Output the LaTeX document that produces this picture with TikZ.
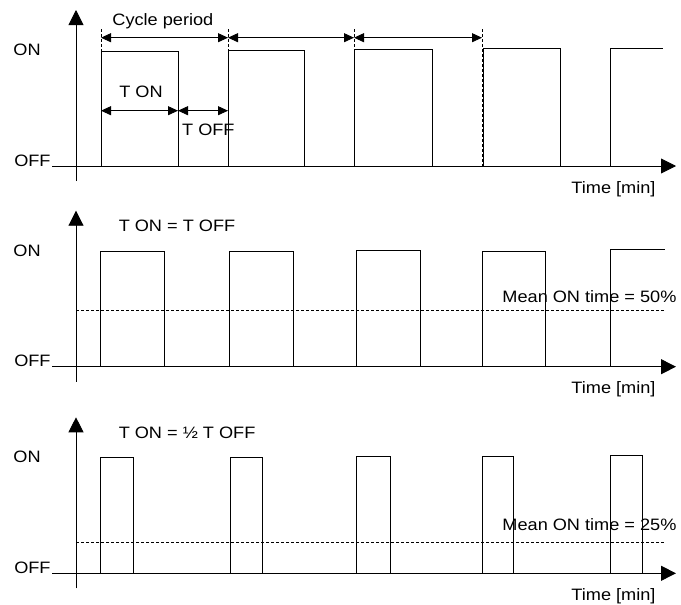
\documentclass[tikz,border=0pt]{standalone}
\usepackage{fontspec}
\setmainfont[FakeStretch=1.1]{Liberation Sans}
\usetikzlibrary{arrows.meta}
\usetikzlibrary{positioning}

\begin{document}
\begin{tikzpicture}[x=1pt, y=-1pt, line width=0.9pt,
  every node/.style={inner sep=0pt, font=\fontsize{16.5}{18}\selectfont},
  axis/.style={-{Triangle[length=15pt,width=15pt]}},
  dim/.style={line width=0.9pt, {Triangle[length=10pt,width=9pt]}-{Triangle[length=10pt,width=9pt]}},
  guide/.style={line width=0.7pt, dash pattern=on 3pt off 2pt}]

          \useasboundingbox (0,0) rectangle (681,605);

          \foreach \ya/\n in {166/1, 366.7/2, 573.3/3}{
            \node[anchor=base east] (off\n) at (51,\ya) {OFF};
            \node[anchor=west] (on\n) at (13,\ya-116) {ON};
            \node (time\n) at (613.5,\ya+23) {Time [min]};
            \draw[axis] (52,\ya) -- (676,\ya);
            \draw[axis] (76,\ya+15) -- (76,\ya-156);
          }

          \foreach \a/\b/\t in {101/178/51, 228/304/50, 354/432/49, 483/560/48.5}
            \draw (\a,166) |- (\b,\t) -- (\b,166);
          \draw (610,166) |- (663,48);

          \foreach \a/\b/\t in {100.7/164/251, 229.7/293.3/251, 356.7/420/250, 482.7/545.7/251}
            \draw (\a,366.7) |- (\b,\t) -- (\b,366.7);
          \draw (610.7,366.7) |- (665,249.3);

          \foreach \a/\b/\t in {100.7/133.3/457.7, 230/262.7/457.7, 356.7/390/456.7, 482.7/513.3/456.7, 610.7/642.7/455.7}
            \draw (\a,573.3) |- (\b,\t) -- (\b,573.3);

          \foreach \x/\n in {101/1, 228/2, 354/3, 482/4}{
            \draw[guide] (\x,29) -- (\x,166);
            \coordinate (c\n) at (\x,37.7);
          }
          \coordinate (ton) at (101,110.7);
          \coordinate (toff) at (178,110.7);
          \coordinate (tend) at (228,110.7);

          \draw[dim] (c1) -- (c2);
          \draw[dim] (c2) -- (c3);
          \draw[dim] (c3) -- (c4);
          \draw[dim] (ton) -- (toff);
          \draw[dim] (toff) -- (tend);

          \node[anchor=base west] (cycle) at (112,25) {Cycle period};
          \node[anchor=base] (tonlbl) at (141,97) {T ON};
          \node[anchor=base west] (tofflbl) at (181.7,135) {T OFF};

          \draw[guide] (76,310) -- (665,310);
          \draw[guide] (76,542.7) -- (665,542.7);

          \node[anchor=base west] (eq2) at (118.3,231.7) {T ON = T OFF};
          \node[anchor=base west] (eq3) at (118.3,438.3) {T ON = ½ T OFF};
          \node[anchor=base west] (mean2) at (502,302.3) {Mean ON time = 50\%};
          \node[anchor=base west] (mean3) at (502,530.7) {Mean ON time = 25\%};
        \end{tikzpicture}
\end{document}
